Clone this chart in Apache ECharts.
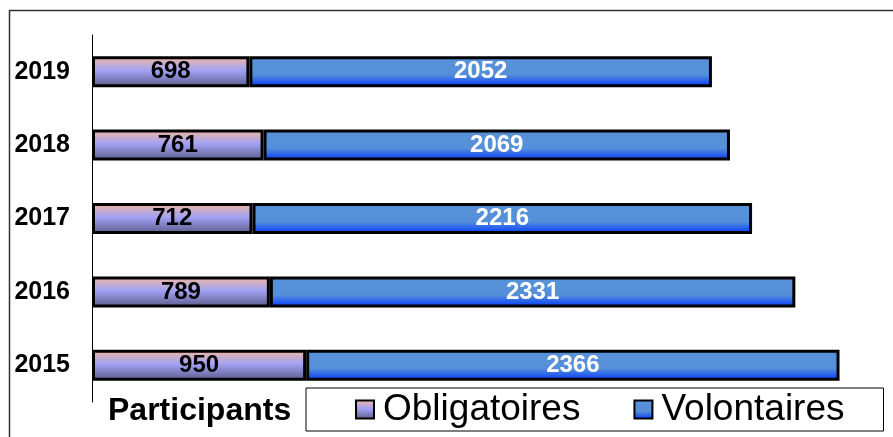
<!DOCTYPE html>
<html>
<head>
<meta charset="utf-8">
<script src="https://cdn.jsdelivr.net/npm/echarts@6/dist/echarts.min.js"></script>
<style>
  html, body { margin: 0; padding: 0; background: #fff; }
  #chart { width: 893px; height: 437px; }
</style>
</head>
<body>
<div id="chart"></div>
<script>
// données
const years = ['2015', '2016', '2017', '2018', '2019'];
const obligatoires = [950, 789, 712, 761, 698];
const volontaires = [2366, 2331, 2216, 2069, 2052];
const legendTitle = 'Participants';

const FONT = '"Liberation Sans", Arial, sans-serif';

// dégradé pêche -> lavande -> violet foncé
const gradOblig = new echarts.graphic.LinearGradient(0, 0, 0, 1, [
  { offset: 0, color: '#f3b89c' },
  { offset: 0.45, color: '#a3a3f6' },
  { offset: 1, color: '#5a5a88' }
]);
// bleu uni avec bas plus saturé
const gradVolont = new echarts.graphic.LinearGradient(0, 0, 0, 1, [
  { offset: 0, color: '#5892d8' },
  { offset: 0.6, color: '#558fd9' },
  { offset: 1, color: '#0036ff' }
]);

const chart = echarts.init(document.getElementById('chart'));

const option = {
  animation: false,
  grid: {
    left: 92,
    right: 12,
    top: 35,
    height: 367,
    containLabel: false
  },
  title: {
    text: legendTitle,
    left: 108,
    top: 395,
    padding: 0,
    textStyle: {
      fontFamily: FONT,
      fontSize: 32,
      fontWeight: 'bold',
      color: '#000'
    }
  },
  legend: {
    left: 306,
    top: 388,
    padding: [3, 39, 3, 49],
    borderColor: '#000',
    borderWidth: 1,
    itemWidth: 18,
    itemHeight: 18,
    itemGap: 53,
    icon: 'rect',
    data: ['Obligatoires', 'Volontaires'],
    itemStyle: { borderColor: '#000', borderWidth: 2 },
    textStyle: {
      fontFamily: FONT,
      fontSize: 37,
      lineHeight: 36,
      color: '#000',
      padding: [0, 0, 0, 4]
    }
  },
  xAxis: {
    type: 'value',
    min: 0,
    max: 3500,
    show: false
  },
  yAxis: {
    type: 'category',
    data: years,
    axisLine: { lineStyle: { color: '#000', width: 1 } },
    axisTick: { show: false },
    axisLabel: {
      margin: 22,
      fontFamily: FONT,
      fontSize: 25,
      fontWeight: 'bold',
      color: '#000'
    }
  },
  series: [
    {
      name: 'Obligatoires',
      type: 'bar',
      stack: 'total',
      barWidth: 31,
      data: obligatoires,
      itemStyle: { color: gradOblig, borderColor: '#000', borderWidth: 3 },
      label: {
        show: true,
        position: 'inside',
        fontFamily: FONT,
        fontSize: 24,
        lineHeight: 24,
        fontWeight: 'bold',
        color: '#000'
      }
    },
    {
      name: 'Volontaires',
      type: 'bar',
      stack: 'total',
      barWidth: 31,
      data: volontaires,
      itemStyle: { color: gradVolont, borderColor: '#000', borderWidth: 3 },
      label: {
        show: true,
        position: 'inside',
        fontFamily: FONT,
        fontSize: 24,
        lineHeight: 24,
        fontWeight: 'bold',
        color: '#fff'
      }
    }
  ],
  graphic: [
    {
      // cadre extérieur
      type: 'rect',
      silent: true,
      shape: { x: 9.5, y: 10.5, width: 900, height: 440 },
      style: { fill: 'none', stroke: '#333', lineWidth: 1.5 }
    }
  ]
};

chart.setOption(option);
window.addEventListener('resize', () => chart.resize());
</script>
</body>
</html>
